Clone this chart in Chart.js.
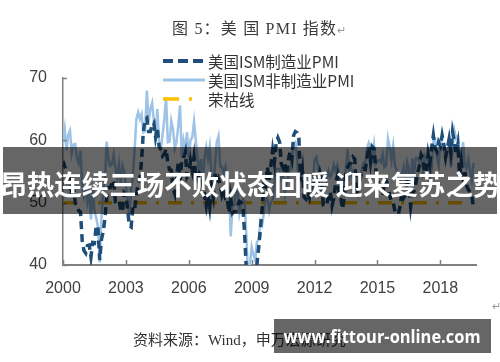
<!DOCTYPE html>
<html>
<head>
<meta charset="utf-8">
<script src="https://cdn.jsdelivr.net/npm/chart.js@4.4.1/dist/chart.umd.min.js"></script>
<style>
  body { margin: 0; background: #fff; }
  #wrap { position: relative; width: 500px; height: 362px; overflow: hidden; background: #fff; }
  #chart { position: absolute; left: 0; top: 0; }
  .txt { position: absolute; white-space: nowrap; }
  #title { left: 172px; top: 15px; font: 16px "Liberation Serif", "Noto Sans CJK SC", serif; color: #3a3a3a; letter-spacing: 1.2px; }
  #source { left: 133px; top: 328px; font: 15px "Liberation Serif", "Noto Sans CJK SC", serif; color: #333; }
  .ret { color: #999; font-size: 11px; }
  #legend { left: 163px; top: 51px; font: 15.5px "Noto Sans CJK SC", sans-serif; color: #333; }
  .row { height: 19px; display: flex; align-items: center; }
  .row svg { margin-right: 3px; }
  #banner { left: 3px; top: 147px; width: 494px; height: 67px; background: rgba(0,0,0,0.6); overflow: hidden;
    color: #fff; font: bold 27.5px "Noto Sans CJK SC", sans-serif; line-height: 72px; text-align: center; }
  #banner span { display: inline-block; margin: 0 -20px; }
  #mark { left: 274px; top: 319px; width: 217px; height: 34px; background: rgba(0,0,0,0.6);
    color: #fff; font: bold 18px "Open Sans", "DejaVu Sans", sans-serif; line-height: 34px; text-align: center; }
  #mark span { display: inline-block; transform-origin: center; }
</style>
</head>
<body>
<div id="wrap">
  <canvas id="chart" width="500" height="362"></canvas>
  <div id="title" class="txt">图 5：美 国 PMI 指数<span class="ret">↵</span></div>
  <div id="legend" class="txt"></div>
  <div id="source" class="txt">资料来源：Wind，申万宏源研究</div>
  <div class="txt ret" style="left:492px;top:300px;">↵</div>
  <div id="banner" class="txt"><span>昂热连续三场不败状态回暖 迎来复苏之势</span></div>
  <div id="mark" class="txt"><span>www.fittour-online.com</span></div>
</div>
<script>
"use strict";

// monthly data, Jan 2000 - Aug 2019
const startYear = 2000;
const seriesNames = ["美国ISM制造业PMI", "美国ISM非制造业PMI", "荣枯线"];

const mfgPMI = [
  56.7, 55.8, 54.9, 54.7, 53.2, 51.4, 52.5, 49.9, 49.7, 48.7, 48.5, 43.9,
  42.3, 41.9, 43.1, 43.2, 41.3, 43.6, 43.5, 46.3, 46.2, 40.8, 44.1, 45.3,
  47.5, 50.7, 52.4, 52.4, 53.1, 53.6, 50.2, 50.3, 50.5, 49.0, 48.5, 51.6,
  51.3, 48.8, 46.3, 46.1, 49.4, 49.0, 51.0, 53.2, 53.7, 57.0, 61.4, 63.4,
  63.6, 61.4, 61.4, 62.4, 62.8, 60.5, 62.0, 59.0, 58.5, 57.5, 57.8, 58.6,
  56.4, 55.3, 55.2, 52.3, 51.4, 53.8, 56.6, 53.6, 56.9, 57.1, 58.1, 54.2,
  54.8, 56.7, 55.2, 57.3, 54.4, 53.8, 54.7, 54.3, 52.9, 51.2, 49.5, 51.4,
  49.3, 52.3, 50.9, 54.7, 52.9, 53.8, 52.9, 51.2, 52.0, 50.7, 50.8, 48.4,
  50.7, 48.3, 48.6, 48.6, 49.6, 50.2, 50.0, 49.2, 44.8, 38.9, 36.2, 33.1,
  35.6, 35.8, 36.3, 40.1, 42.8, 45.8, 49.1, 52.9, 52.6, 55.7, 53.6, 55.9,
  58.4, 56.5, 59.6, 60.4, 59.7, 56.2, 55.5, 56.3, 54.4, 56.9, 58.2, 57.0,
  60.8, 61.4, 61.2, 60.4, 53.5, 55.3, 50.9, 50.6, 51.6, 50.8, 52.7, 53.9,
  54.1, 52.4, 53.4, 54.8, 53.5, 49.7, 49.8, 49.6, 51.5, 51.7, 49.5, 50.7,
  53.1, 54.2, 51.3, 50.7, 49.0, 50.9, 55.4, 55.7, 56.2, 56.4, 57.3, 57.0,
  51.3, 53.2, 53.7, 54.9, 55.4, 55.3, 57.1, 59.0, 56.6, 59.0, 58.7, 55.5,
  53.5, 52.9, 51.5, 51.5, 52.8, 53.5, 52.7, 51.1, 50.2, 50.1, 48.6, 48.2,
  48.2, 49.5, 51.8, 50.8, 51.3, 53.2, 52.6, 49.4, 51.5, 51.9, 53.2, 54.7,
  56.0, 57.7, 57.2, 54.8, 54.9, 57.8, 56.3, 58.8, 60.8, 58.7, 58.2, 59.7,
  59.1, 60.8, 59.3, 57.3, 58.7, 60.2, 58.1, 61.3, 59.8, 57.7, 59.3, 54.3,
  56.6, 54.2, 55.3, 52.8, 52.1, 51.7, 51.2, 49.1
];

const nonMfgPMI = [
  59.6, 61.8, 58.4, 60.9, 61.6, 57.9, 59.3, 59.4, 57.1, 56.3, 58.4, 53.0,
  51.0, 52.3, 50.0, 51.5, 47.3, 52.5, 48.7, 47.6, 46.1, 40.4, 47.5, 52.0,
  53.6, 59.8, 56.9, 55.9, 56.1, 57.7, 55.5, 54.0, 56.2, 53.0, 56.0, 55.1,
  52.6, 50.4, 47.9, 52.4, 54.2, 58.6, 63.4, 64.5, 63.4, 64.2, 61.3, 61.5,
  68.0, 63.0, 65.0, 66.0, 63.2, 60.9, 65.0, 59.5, 58.6, 60.9, 63.4, 66.9,
  59.7, 59.8, 63.1, 61.7, 58.7, 59.8, 62.4, 65.6, 57.2, 60.0, 58.5, 61.3,
  56.8, 60.1, 60.5, 63.0, 60.1, 57.0, 54.8, 57.0, 52.9, 57.1, 58.9, 57.1,
  59.0, 54.3, 52.4, 56.0, 59.7, 60.7, 55.8, 55.8, 54.8, 55.8, 54.1, 53.2,
  44.6, 49.3, 49.6, 52.0, 51.7, 48.2, 49.5, 50.6, 50.2, 44.4, 37.3, 40.1,
  42.9, 41.6, 40.8, 43.7, 44.0, 47.0, 46.4, 48.4, 50.9, 50.6, 48.7, 50.1,
  50.5, 53.0, 55.4, 55.4, 55.4, 53.8, 54.3, 51.5, 53.2, 54.3, 55.0, 57.1,
  59.4, 59.7, 57.3, 52.8, 54.6, 53.3, 52.7, 53.3, 53.0, 52.9, 52.0, 52.6,
  56.8, 57.3, 56.0, 53.5, 53.7, 52.1, 52.6, 53.7, 55.1, 54.2, 54.7, 56.1,
  55.2, 56.0, 54.4, 53.1, 53.7, 52.2, 56.0, 58.6, 54.4, 55.4, 53.9, 53.0,
  54.0, 51.6, 53.1, 55.2, 56.3, 56.0, 58.7, 59.6, 58.6, 57.1, 59.3, 56.2,
  56.7, 56.9, 56.5, 57.8, 55.7, 56.0, 60.3, 59.0, 56.9, 59.1, 55.9, 55.3,
  53.5, 53.4, 54.5, 55.7, 52.9, 56.5, 55.5, 51.4, 57.1, 54.8, 57.2, 57.2,
  56.5, 57.6, 55.2, 57.5, 56.9, 57.4, 53.9, 55.3, 59.8, 60.1, 57.4, 55.9,
  59.9, 59.5, 58.8, 56.8, 58.6, 59.1, 55.7, 58.5, 61.6, 60.3, 60.7, 57.6,
  56.7, 59.7, 56.1, 55.5, 56.9, 55.1, 53.7, 56.4
];

const boomBust = [50, 50];
const xTicks = [2000, 2003, 2006, 2009, 2012, 2015, 2018];
const yTicks = [40, 50, 60, 70];

(function() {
  window.addEventListener("load", init);

  const colors = ["#1F4E79", "#9DC3E6", "#FFC000"];
  const axisColor = "#808080";

  function init() {
    buildLegend();
    fitMark();
    drawChart();
  }

  function toPoints(values) {
    return values.map((v, i) => ({x: startYear + i / 12, y: v}));
  }

  // squeeze the watermark text into the width seen in the picture
  function fitMark() {
    let span = qs("#mark span");
    let w = span.offsetWidth;
    if (w > 0) {
      span.style.transform = "scaleX(" + (197 / w) + ")";
    }
  }

  function drawChart() {
    Chart.defaults.font.family = "'Liberation Sans', sans-serif";
    Chart.defaults.color = "#404040";
    let lastX = startYear + (mfgPMI.length - 1) / 12;

    // small inward ticks like the original
    const innerTicks = {
      id: "innerTicks",
      afterDraw(chart) {
        let ctx = chart.ctx;
        let xs = chart.scales.x, ys = chart.scales.y;
        ctx.save();
        ctx.strokeStyle = axisColor;
        ctx.lineWidth = 1.5;
        xTicks.forEach(t => {
          let px = Math.round(xs.getPixelForValue(t)) + 0.5;
          ctx.beginPath();
          ctx.moveTo(px, ys.bottom);
          ctx.lineTo(px, ys.bottom - 5);
          ctx.stroke();
        });
        yTicks.forEach(t => {
          let py = Math.round(ys.getPixelForValue(t)) + 0.5;
          ctx.beginPath();
          ctx.moveTo(xs.left, py);
          ctx.lineTo(xs.left + 4, py);
          ctx.stroke();
        });
        ctx.restore();
      }
    };

    new Chart(id("chart"), {
      type: "line",
      data: {
        datasets: [{
          label: seriesNames[0],
          data: toPoints(mfgPMI),
          borderColor: colors[0],
          borderWidth: 3.5,
          borderDash: [8, 5],
          pointRadius: 0,
          tension: 0
        }, {
          label: seriesNames[1],
          data: toPoints(nonMfgPMI),
          borderColor: colors[1],
          borderWidth: 2.5,
          pointRadius: 0,
          tension: 0
        }, {
          label: seriesNames[2],
          data: [{x: startYear, y: boomBust[0]}, {x: lastX, y: boomBust[1]}],
          borderColor: colors[2],
          borderWidth: 3.5,
          borderDash: [14, 9, 3, 9],
          pointRadius: 0
        }]
      },
      options: {
        responsive: false,
        animation: false,
        layout: {padding: {top: 78, right: 24, left: 0, bottom: 0}},
        plugins: {legend: {display: false}, tooltip: {enabled: false}},
        scales: {
          x: {
            type: "linear",
            min: 2000,
            max: 2019.7,
            afterFit: scale => { scale.height = 97; },
            afterBuildTicks: scale => { scale.ticks = xTicks.map(v => ({value: v})); },
            grid: {display: false, drawTicks: false},
            border: {display: true, color: axisColor, width: 2},
            ticks: {padding: 14, font: {size: 16}, maxRotation: 0, callback: v => String(v)}
          },
          y: {
            min: 40,
            max: 70,
            afterFit: scale => { scale.width = 63; },
            afterBuildTicks: scale => { scale.ticks = yTicks.map(v => ({value: v})); },
            grid: {display: false, drawTicks: false},
            border: {display: true, color: axisColor, width: 1.5},
            ticks: {padding: 16, font: {size: 16}}
          }
        }
      },
      plugins: [innerTicks]
    });
  }

  function buildLegend() {
    let dashes = ["10 5", "", "16 10 3 30"];
    let widths = [4, 3, 3.5];
    let box = id("legend");
    seriesNames.forEach((name, i) => {
      let row = gen("div");
      row.className = "row";
      row.innerHTML = '<svg width="42" height="8"><line x1="0" y1="4" x2="42" y2="4" stroke="' +
        colors[i] + '" stroke-width="' + widths[i] + '" stroke-dasharray="' + dashes[i] + '"/></svg>' +
        "<span>" + name + "</span>";
      box.appendChild(row);
    });
  }

  function gen(tagName) {
    return document.createElement(tagName);
  }

  function id(name) {
    return document.getElementById(name);
  }

  function qs(selector) {
    return document.querySelector(selector);
  }
})();
</script>
</body>
</html>
